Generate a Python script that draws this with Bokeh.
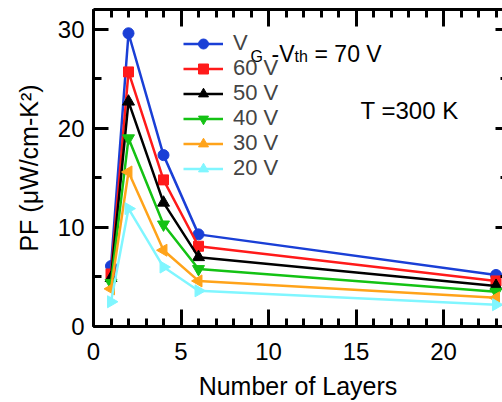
import numpy as np
from bokeh.plotting import figure
from bokeh.models import (LinearAxis, SingleIntervalTicker, Legend, LegendItem,
                          Label, Range1d)
from bokeh.embed import file_html
from bokeh.resources import INLINE

# ---- data ----
layers = [1, 2, 4, 6, 23]
pf_70 = [6.1, 29.6, 17.3, 9.3, 5.2]
pf_60 = [5.3, 25.7, 14.8, 8.1, 4.6]
pf_50 = [4.9, 22.7, 12.5, 7.0, 4.1]
pf_40 = [4.4, 19.0, 10.3, 5.8, 3.5]
pf_30 = [3.8, 15.6, 7.7, 4.6, 2.9]
pf_20 = [2.5, 11.9, 6.0, 3.6, 2.2]
series_labels = ["V", "60 V", "50 V", "40 V", "30 V", "20 V"]

FONT = "Liberation Sans"

p = figure(width=502, height=402, output_backend="svg", toolbar_location=None,
           x_range=Range1d(0, 23.37), y_range=Range1d(0, 32),
           min_border_left=93, min_border_right=0, min_border_top=9,
           min_border_bottom=76)
p.xgrid.visible = False
p.ygrid.visible = False
p.outline_line_color = None
p.background_fill_color = "white"
p.border_fill_color = "white"


def style_axis(ax, major_in, minor_in, labels=True):
    ax.axis_line_width = 3
    ax.axis_line_color = "black"
    ax.major_tick_line_width = 3
    ax.minor_tick_line_width = 3
    ax.major_tick_line_color = "black"
    ax.minor_tick_line_color = "black"
    ax.major_tick_in = major_in
    ax.major_tick_out = 0
    ax.minor_tick_in = minor_in
    ax.minor_tick_out = 0
    if labels:
        ax.major_label_text_font = FONT
        ax.major_label_text_font_size = "24px"
        ax.major_label_text_color = "black"
        ax.axis_label_text_font = FONT
        ax.axis_label_text_font_size = "25px"
        ax.axis_label_text_font_style = "normal"
        ax.axis_label_text_color = "black"
    else:
        ax.major_label_text_font_size = "1px"
        ax.major_label_text_color = None
        ax.major_label_standoff = 0


xb = p.xaxis[0]
xb.ticker = SingleIntervalTicker(interval=5, num_minor_ticks=5)
style_axis(xb, 17, 8)
xb.major_label_standoff = 16
xb.axis_label = "Number of Layers"
xb.axis_label_standoff = 9

yl = p.yaxis[0]
yl.ticker = SingleIntervalTicker(interval=10, num_minor_ticks=2)
style_axis(yl, 15, 8)
yl.major_label_standoff = 9
yl.axis_label = "PF (μW/cm-K²)"
yl.axis_label_standoff = 12

top = LinearAxis(ticker=SingleIntervalTicker(interval=5, num_minor_ticks=5))
style_axis(top, 17, 8, labels=False)
p.add_layout(top, "above")

right = LinearAxis(ticker=SingleIntervalTicker(interval=10, num_minor_ticks=2))
style_axis(right, 7, 2, labels=False)
right.axis_line_color = None
p.add_layout(right, "right")

colors = ["#1a3fd6", "#ff1a1a", "#000000", "#14c214", "#ffa31a", "#80f6ff"]
markers = ["circle", "square", "triangle", "inverted_triangle", "triangle", "triangle"]
angles = [0, 0, 0, 0, 90, -90]
sizes = [11, 10, 12, 12, 12, 12]
all_pf = [pf_70, pf_60, pf_50, pf_40, pf_30, pf_20]
# legend row positions (px from the bottom of the plot frame)
legend_rows = [270, 245, 220, 195, 170, 145]

for ys, c, m, a, s, lab, ly in zip(all_pf, colors, markers, angles, sizes,
                                   series_labels, legend_rows):
    rl = p.line(layers, ys, line_color=c, line_width=2.5)
    rs = p.scatter(layers, ys, marker=m, size=s, angle=a, angle_units="deg",
                   fill_color=c, line_color=c)
    lg = Legend(items=[LegendItem(label=lab, renderers=[rl, rs])],
                location=(90, ly), glyph_width=40, glyph_height=25,
                label_standoff=10, spacing=0, padding=0, margin=0,
                border_line_color=None, background_fill_alpha=0,
                label_text_font=FONT, label_text_font_size="22px",
                label_height=20)
    p.add_layout(lg)

# rich text pieces of the first legend entry (subscripts)
for txt, xx, yy, fs in [("G", 8.97, 27.3, "16px"), ("-V", 10.17, 27.55, "23px"),
                        ("th", 11.49, 27.3, "16px"), ("= 70 V", 12.63, 27.55, "23px")]:
    p.add_layout(Label(x=xx, y=yy, text=txt, text_font=FONT, text_font_size=fs,
                       text_baseline="alphabetic", text_align="left",
                       text_color="black"))

p.add_layout(Label(x=15.26, y=21.8, text="T =300 K", text_font=FONT,
                   text_font_size="24px", text_baseline="alphabetic",
                   text_align="left", text_color="black"))

open("out.html", "w").write(file_html(p, INLINE))
